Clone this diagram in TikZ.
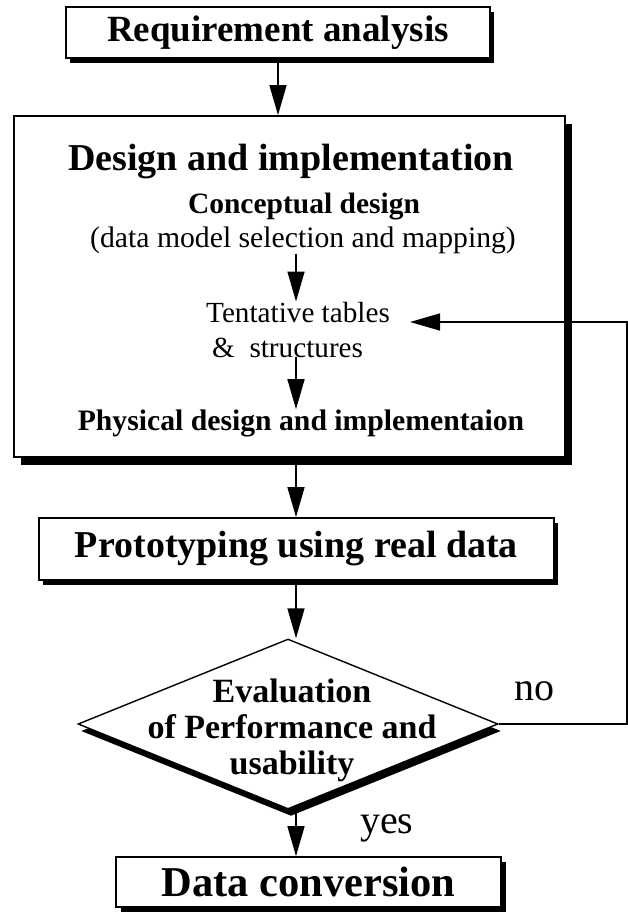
\documentclass[tikz,border=0pt]{standalone}
\usepackage{fontspec}
\setmainfont{Liberation Serif}
\usetikzlibrary{arrows.meta}
\usetikzlibrary{shapes.geometric}
\usetikzlibrary{shadows}

\begin{document}
\begin{tikzpicture}[x=1pt, y=-1pt,
  box/.style 2 args={draw, fill=white, line width=1.7pt, inner sep=0pt,
    drop shadow={shadow xshift=#1pt, shadow yshift=-#2pt, fill=black, opacity=1}},
  txt/.style={inner sep=0pt},
  >={Triangle[length=30pt, width=17pt]}]
\useasboundingbox (0,0) rectangle (628,913);
\coordinate (col) at (296,0);
\coordinate (back) at (627,0);
% boxes
\node[box={4}{5}, minimum width=424pt, minimum height=51pt, font=\fontsize{37}{40}\selectfont\bfseries] (req) at (278,32.5) {Requirement analysis};
\node[box={7}{8}, minimum width=551pt, minimum height=341pt] (design) at (289.5,286.5) {};
\node[box={4}{5}, minimum width=515pt, minimum height=62pt, font=\fontsize{38}{40}\selectfont\bfseries] (proto) at (296.5,549) {Prototyping using real data};
\node[draw, diamond, fill=white, line width=1.4pt, minimum width=420pt, minimum height=170pt, inner sep=0pt,
  drop shadow={shadow xshift=3pt, shadow yshift=-7pt, fill=black, opacity=1}] (dec) at (288,724) {};
\node[box={5}{5}, minimum width=385pt, minimum height=50pt, font=\fontsize{42.5}{45}\selectfont\bfseries] (data) at (308.5,882) {Data conversion};
% texts in the big box
\node[txt, anchor=base, font=\fontsize{38}{40}\selectfont\bfseries] (title) at (291,170) {Design and implementation};
\node[txt, anchor=base, font=\fontsize{29.5}{32}\selectfont\bfseries] (concept) at (304,213) {Conceptual design};
\node[txt, anchor=base, font=\fontsize{29.7}{32}\selectfont] (map) at (303,247) {(data model selection and mapping)};
\node[txt, anchor=base west, font=\fontsize{29.2}{32}\selectfont] (tent) at (206,322) {Tentative tables};
\node[txt, anchor=base west, font=\fontsize{29.2}{32}\selectfont] (struct) at (212,357) {\&\ \ structures};
\node[txt, anchor=base, font=\fontsize{29.7}{32}\selectfont\bfseries] (phys) at (301,430) {Physical design and implementaion};
\node[txt, align=center, font=\fontsize{34}{36}\selectfont\bfseries] (evaltxt) at (292,730) {Evaluation\\of Performance and\\usability};
\node[txt, anchor=base west, font=\fontsize{40}{42}\selectfont] (no) at (514,700) {no};
\node[txt, anchor=base west, font=\fontsize{40}{42}\selectfont] (yes) at (360,833) {yes};
% arrows
\draw[line width=1.5pt, ->] (req.south) -- (req.south |- design.north);
\draw[line width=1.5pt, ->] (map.south -| col) -- (tent.north -| col);
\draw[line width=1.5pt, ->] (struct.south -| col) -- (phys.north -| col);
\foreach \a/\b in {design/proto, proto/dec, dec/data}
  \draw[line width=1.5pt, ->] (\a.south -| col) -- (\b.north -| col);
\draw[line width=1.5pt, ->] (dec.east) -- (dec.east -| back) |- ([xshift=20pt]tent.base east);
\end{tikzpicture}
\end{document}
